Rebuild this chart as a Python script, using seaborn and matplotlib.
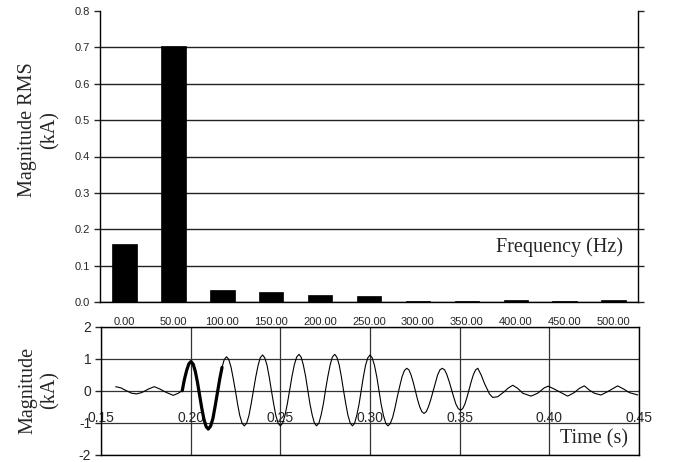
import matplotlib
matplotlib.use("Agg")
import matplotlib.pyplot as plt
import seaborn as sns
import numpy as np

# spectrum (top)
freq_labels = ["0.00", "50.00", "100.00", "150.00", "200.00", "250.00",
               "300.00", "350.00", "400.00", "450.00", "500.00"]
mag_rms = [0.159, 0.705, 0.033, 0.027, 0.020, 0.017, 0.004, 0.003, 0.006, 0.003, 0.006]

# current waveform (bottom)
time_s = [0.1582, 0.1610, 0.1634, 0.1671, 0.1699, 0.1727, 0.1764, 0.1797, 0.1829, 0.1866,
          0.1903, 0.1931, 0.1953, 0.1965, 0.1978, 0.1990,
          0.2002, 0.2014, 0.2026, 0.2038, 0.2050, 0.2062, 0.2074, 0.2086,
          0.2098, 0.2111, 0.2124, 0.2136, 0.2149, 0.2162, 0.2175, 0.2187,
          0.2200, 0.2212, 0.2225, 0.2237, 0.2250, 0.2262, 0.2274, 0.2287,
          0.2299, 0.2312, 0.2325, 0.2337, 0.2350, 0.2363, 0.2376, 0.2388,
          0.2401, 0.2413, 0.2426, 0.2438, 0.2450, 0.2463, 0.2475, 0.2488,
          0.2500, 0.2513, 0.2526, 0.2539, 0.2552, 0.2565, 0.2578, 0.2591,
          0.2604, 0.2616, 0.2628, 0.2641, 0.2653, 0.2665, 0.2678, 0.2690,
          0.2702, 0.2715, 0.2727, 0.2740, 0.2752, 0.2765, 0.2778, 0.2790,
          0.2803, 0.2815, 0.2828, 0.2840, 0.2852, 0.2865, 0.2877, 0.2890,
          0.2902, 0.2914, 0.2926, 0.2939, 0.2951, 0.2963, 0.2975, 0.2988,
          0.3000, 0.3012, 0.3025, 0.3038, 0.3050, 0.3062, 0.3075, 0.3088,
          0.3100, 0.3113, 0.3126, 0.3139, 0.3152, 0.3166, 0.3179, 0.3192,
          0.3205, 0.3217, 0.3229, 0.3241, 0.3253, 0.3265, 0.3277, 0.3289,
          0.3301, 0.3314, 0.3326, 0.3339, 0.3352, 0.3365, 0.3377, 0.3390,
          0.3403, 0.3416, 0.3428, 0.3441, 0.3454, 0.3467, 0.3479, 0.3492,
          0.3505, 0.3517, 0.3529, 0.3541, 0.3553, 0.3565, 0.3577, 0.3589,
          0.3601, 0.3620, 0.3638,
          0.3666, 0.3684, 0.3712, 0.3749, 0.3768, 0.3796, 0.3824, 0.3852, 0.3898, 0.3935,
          0.3972, 0.3994, 0.4028, 0.4065, 0.4102, 0.4139, 0.4167, 0.4195, 0.4223, 0.4251,
          0.4288, 0.4325, 0.4381, 0.4418, 0.4446, 0.4493]
current_ka = [0.135, 0.10, 0.03, -0.07, -0.09, -0.05, 0.06, 0.135, 0.06, -0.05,
              -0.135, -0.07, 0.01, 0.36, 0.65, 0.85,
              0.92, 0.84, 0.61, 0.27, -0.135, -0.54, -0.88, -1.11,
              -1.19, -1.10, -0.86, -0.49, -0.06, 0.37, 0.74, 0.98,
              1.07, 0.99, 0.75, 0.40, -0.01, -0.42, -0.77, -1.01,
              -1.09, -1.01, -0.765, -0.41, 0.02, 0.44, 0.80, 1.04,
              1.125, 1.04, 0.80, 0.44, 0.02, -0.41, -0.765, -1.01,
              -1.09, -1.005, -0.76, -0.40, 0.03, 0.456, 0.82, 1.06,
              1.146, 1.06, 0.82, 0.456, 0.03, -0.40, -0.76, -1.005,
              -1.09, -1.005, -0.76, -0.40, 0.03, 0.456, 0.82, 1.06,
              1.146, 1.06, 0.82, 0.456, 0.03, -0.40, -0.76, -1.005,
              -1.09, -1.01, -0.765, -0.41, 0.02, 0.44, 0.80, 1.04,
              1.125, 1.04, 0.80, 0.44, 0.02, -0.41, -0.765, -1.01,
              -1.09, -1.02, -0.83, -0.535, -0.19, 0.155, 0.45, 0.64,
              0.71, 0.66, 0.50, 0.275, 0.00, -0.265, -0.49, -0.645,
              -0.70, -0.645, -0.49, -0.265, 0.00, 0.275, 0.50, 0.66,
              0.71, 0.66, 0.52, 0.305, 0.055, -0.195, -0.41, -0.55,
              -0.60, -0.55, -0.41, -0.195, 0.055, 0.305, 0.52, 0.66,
              0.71, 0.50, 0.24,
              -0.09, -0.20, -0.18, -0.02, 0.08, 0.18, 0.08, -0.07, -0.16, -0.07,
              0.10, 0.15, 0.06, -0.05, -0.16, -0.05, 0.08, 0.16, 0.03, -0.07,
              -0.125, -0.02, 0.16, 0.05, -0.05, -0.125]
# window shown in bold (one cycle after fault)
bold_start, bold_end = 0.1953, 0.2175

sns.set_style("white")
plt.rcParams["font.family"] = ["Liberation Sans", "DejaVu Sans"]
plt.rcParams["axes.unicode_minus"] = False
serif = ["Liberation Serif", "DejaVu Serif"]
W, H = 677, 462

fig = plt.figure(figsize=(6.77, 4.62), dpi=100)
ax1 = fig.add_axes([100 / W, 1 - 302 / H, 538 / W, 291 / H])
ax2 = fig.add_axes([101 / W, 1 - 455 / H, 538 / W, 128 / H])

# --- top: spectrum bars
sns.barplot(x=freq_labels, y=mag_rms, color="black", width=0.5, ax=ax1,
            saturation=1, edgecolor="black", linewidth=0.5)
ax1.set_xlim(-0.5, len(freq_labels) - 0.5)
ax1.set_ylim(0, 0.8)
ax1.set_yticks(np.arange(0, 0.81, 0.1))
ax1.set_yticklabels(["%.1f" % v for v in np.arange(0, 0.81, 0.1)])
ax1.yaxis.grid(True, color="#222222", linewidth=1.0)
ax1.yaxis.get_gridlines()[-1].set_visible(False)
ax1.set_axisbelow(True)
ax1.spines["top"].set_visible(False)
for s in ["left", "right", "bottom"]:
    ax1.spines[s].set_color("black")
    ax1.spines[s].set_linewidth(1.0)
ax1.tick_params(axis="y", left=True, right=True, direction="out", length=4,
                width=1, labelsize=8, pad=3)
ax1.tick_params(axis="x", bottom=False, labelsize=8, pad=7)
ax1.set_xlabel("")
ax1.set_ylabel("")
ax1.text(10.2, 0.15, "Frequency (Hz)", ha="right", va="center",
         fontsize=14.5, family=serif)

# --- bottom: waveform
sns.lineplot(x=time_s, y=current_ka, ax=ax2, color="black", linewidth=0.8,
             sort=False, estimator=None)
t_arr = np.array(time_s)
i_arr = np.array(current_ka)
sel = (t_arr >= bold_start) & (t_arr <= bold_end)
sns.lineplot(x=t_arr[sel], y=i_arr[sel], ax=ax2, color="black", linewidth=2.3,
             sort=False, estimator=None)
ax2.set_xlim(0.15, 0.45)
ax2.set_ylim(-2, 2)
ax2.set_xticks(np.arange(0.15, 0.451, 0.05))
ax2.set_xticklabels(["%.2f" % v for v in np.arange(0.15, 0.451, 0.05)])
ax2.set_yticks([-2, -1, 0, 1, 2])
ax2.grid(True, color="#333333", linewidth=0.9)
ax2.set_axisbelow(True)
for s in ax2.spines.values():
    s.set_color("black")
    s.set_linewidth(1.0)
ax2.tick_params(axis="y", left=True, direction="out", length=4, width=1,
                labelsize=10, pad=3)
ax2.tick_params(axis="x", bottom=False, labelsize=10, pad=-35)
ax2.set_xlabel("")
ax2.set_ylabel("")
ax2.text(0.4437, -1.5, "Time (s)", ha="right", va="center",
         fontsize=14.5, family=serif)

fig.text(39 / W, 1 - 130 / H, "Magnitude RMS\n(kA)", rotation=90, ha="center",
         va="center", fontsize=14.5, family=serif, linespacing=1.25)
fig.text(39 / W, 1 - 390 / H, "Magnitude\n(kA)", rotation=90, ha="center",
         va="center", fontsize=14.5, family=serif, linespacing=1.25)

fig.savefig("out.png", dpi=100)
